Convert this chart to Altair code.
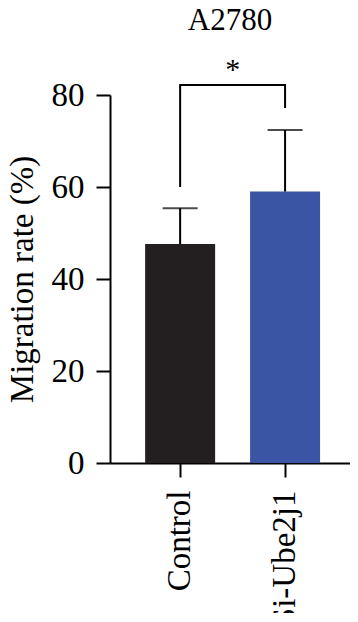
import altair as alt
import pandas as pd

groups = ["Control", "Si-Ube2j1"]
means = [47.6, 59.0]
err_upper = [55.4, 72.4]
bar_colors = ["#231f20", "#3a55a4"]
y_ticks = [0, 20, 40, 60, 80]
bracket_group = ["Control", "Control", "Si-Ube2j1", "Si-Ube2j1"]
bracket_y = [60.0, 82.2, 82.2, 77.2]
bracket_order = [0, 1, 2, 3]
sig_label = ["*"]

FONT = "Liberation Serif"

df = pd.DataFrame({"group": groups, "mean": means, "upper": err_upper})
br = pd.DataFrame({"group": bracket_group, "y": bracket_y, "o": bracket_order})
star = pd.DataFrame({"group": ["Control"], "y": [bracket_y[1]], "t": sig_label})

xs = alt.Scale(domain=groups, paddingInner=0.333, paddingOuter=0.31, align=0.54)
ys = alt.Scale(domain=[0, 80], nice=False, zero=True)

x_enc = alt.X("group:N", scale=xs, sort=groups, title=None,
              axis=alt.Axis(labelAngle=-90, tickSize=14, labelPadding=13,
                            labelFontSize=33))
y_enc = alt.Y("mean:Q", scale=ys, title="Migration rate (%)",
              axis=alt.Axis(values=y_ticks, tickSize=14, labelPadding=12,
                            labelFontSize=33, titleFontSize=33, titlePadding=12))

bars = alt.Chart(df).mark_bar().encode(
    x=x_enc, y=y_enc,
    color=alt.Color("group:N", scale=alt.Scale(domain=groups, range=bar_colors), legend=None),
)

err = alt.Chart(df).mark_rule(color="black", strokeWidth=2).encode(
    x=alt.X("group:N", scale=xs, sort=groups),
    y=alt.Y("mean:Q", scale=ys), y2="upper:Q",
)

caps = alt.Chart(df).mark_tick(color="black", size=35, thickness=2).encode(
    x=alt.X("group:N", scale=xs, sort=groups),
    y=alt.Y("upper:Q", scale=ys),
)

bracket = alt.Chart(br).mark_line(color="black", strokeWidth=2).encode(
    x=alt.X("group:N", scale=xs, sort=groups),
    y=alt.Y("y:Q", scale=ys),
    order="o:Q",
)

stars = alt.Chart(star).mark_text(font=FONT, fontSize=30, dx=52.5, dy=-6,
                                  baseline="alphabetic", color="black").encode(
    x=alt.X("group:N", scale=xs, sort=groups),
    y=alt.Y("y:Q", scale=ys),
    text="t:N",
)

chart = alt.layer(bars, err, caps, bracket, stars).properties(
    width=240, height=368,
    title=alt.TitleParams("A2780", anchor="middle", frame="group", fontSize=31,
                          font=FONT, fontWeight="normal", color="black",
                          baseline="bottom", offset=20, dy=33),
    autosize=alt.AutoSizeParams(type="none"),
    padding={"left": 102, "top": 87, "right": 0, "bottom": 150},
).configure_axis(
    domainColor="black", domainWidth=2, tickColor="black", tickWidth=2,
    labelColor="black", labelFont=FONT, titleFont=FONT, titleColor="black",
    titleFontWeight="normal", grid=False,
).configure_view(stroke=None)

chart.save("out.html", embed_options={"renderer": "svg", "actions": False})
